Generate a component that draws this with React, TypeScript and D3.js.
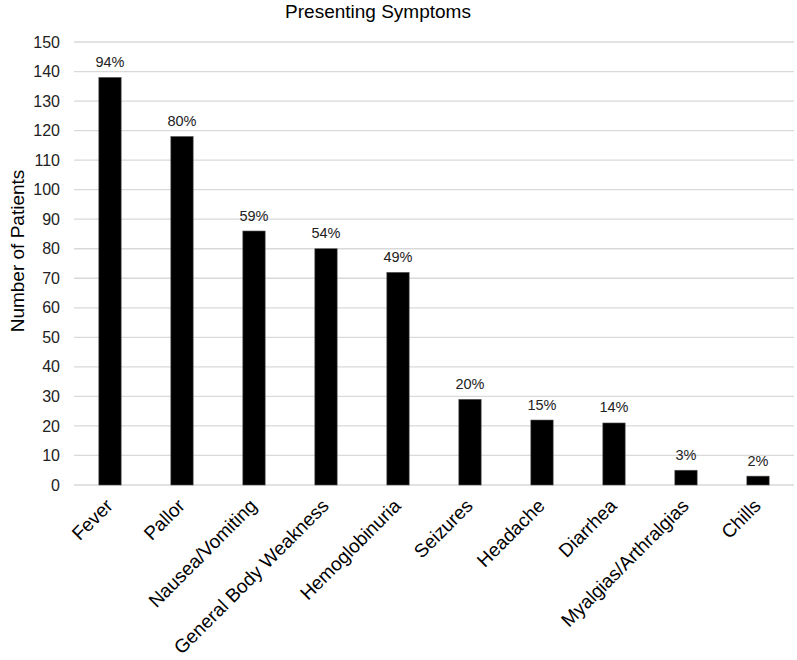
import { useEffect, useRef } from 'react';
import * as d3 from 'd3';

const SYMPTOMS = [
  'Fever', 'Pallor', 'Nausea/Vomiting', 'General Body Weakness', 'Hemoglobinuria',
  'Seizures', 'Headache', 'Diarrhea', 'Myalgias/Arthralgias', 'Chills',
];
const PATIENTS = [138, 118, 86, 80, 72, 29, 22, 21, 5, 3];
const PERCENTS = ['94%', '80%', '59%', '54%', '49%', '20%', '15%', '14%', '3%', '2%'];
const Y_TICKS = d3.range(0, 151, 10);

const W = 797;
const H = 660;
const FONT = '"Liberation Sans", Arial, sans-serif';

export default function App() {
  const svgRef = useRef<SVGSVGElement>(null);

  useEffect(() => {
    const svgEl = svgRef.current;
    if (!svgEl) return;
    const svg = d3.select(svgEl);
    svg.selectAll('*').remove();

    const margin = { top: 42, right: 3, bottom: 175, left: 74 };
    const x = d3.scaleBand<string>().domain(SYMPTOMS)
      .range([margin.left, W - margin.right]).paddingInner(0.69).paddingOuter(0.345);
    const y = d3.scaleLinear().domain([0, 150]).range([H - margin.bottom, margin.top]);

    svg.append('g').selectAll('line').data(Y_TICKS).join('line')
      .attr('x1', margin.left).attr('x2', W - margin.right)
      .attr('y1', (d) => y(d)).attr('y2', (d) => y(d))
      .attr('stroke', '#d9d9d9').attr('stroke-width', 1.3);

    svg.append('g').selectAll('text').data(Y_TICKS).join('text')
      .attr('x', 60).attr('y', (d) => y(d)).attr('dy', '0.35em')
      .attr('text-anchor', 'end').attr('font-size', 16).attr('fill', '#222')
      .text((d) => d);

    svg.append('g').selectAll('rect').data(PATIENTS).join('rect')
      .attr('x', (_, i) => x(SYMPTOMS[i])!)
      .attr('y', (d) => y(d))
      .attr('width', x.bandwidth())
      .attr('height', (d) => y(0) - y(d))
      .attr('fill', '#000').attr('stroke', '#555').attr('stroke-width', 0.6);

    svg.append('g').selectAll('text').data(PATIENTS).join('text')
      .attr('x', (_, i) => x(SYMPTOMS[i])! + x.bandwidth() / 2)
      .attr('y', (d) => y(d) - 10.5)
      .attr('text-anchor', 'middle').attr('font-size', 14.5).attr('fill', '#222')
      .text((_, i) => PERCENTS[i]);

    // rotated category labels, end of text near the bar centre
    svg.append('g').selectAll('text').data(SYMPTOMS).join('text')
      .attr('transform', (d) => `translate(${x(d)! + x.bandwidth() / 2 + 4},${y(0) + 22}) rotate(-45)`)
      .attr('text-anchor', 'end').attr('font-size', 19).attr('fill', '#000')
      .text((d) => d);

    svg.append('text')
      .attr('transform', `translate(24,251) rotate(-90)`)
      .attr('text-anchor', 'middle').attr('font-size', 19).attr('fill', '#000')
      .text('Number of Patients');

    svg.append('text')
      .attr('x', 378).attr('y', 18)
      .attr('text-anchor', 'middle').attr('font-size', 19).attr('fill', '#000')
      .text('Presenting Symptoms');
  }, []);

  return (
    <svg ref={svgRef} width={W} height={H}
      style={{ position: 'absolute', left: 0, top: 0, fontFamily: FONT, background: '#fff' }} />
  );
}
